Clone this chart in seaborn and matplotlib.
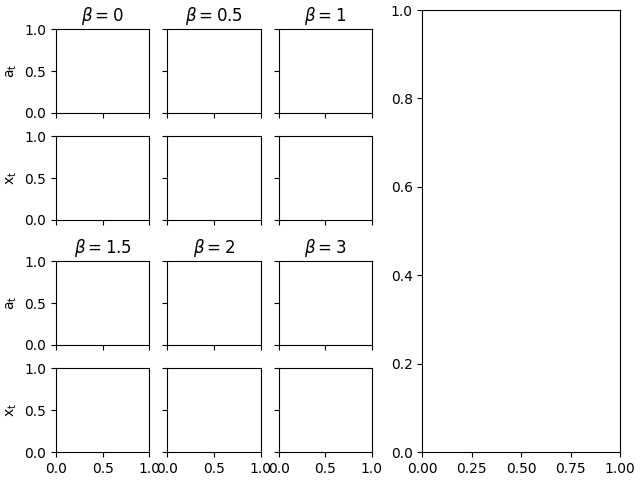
import matplotlib
matplotlib.use("Agg")
import matplotlib.pyplot as plt
import seaborn as sns

# keep plain matplotlib look (black text, thin spines)
sns.reset_defaults()
plt.rcParams["font.family"] = ["DejaVu Sans"]

# beta values shown in the panel titles, one block of 3 per group
betas = ["0", "0.5", "1", "1.5", "2", "3"]
row_labels = [r"$\mathrm{a_t}$", r"$\mathrm{x_t}$"]

fig = plt.figure(figsize=(6.4, 4.8), dpi=100)

# two stacked 2x3 blocks on the left
blocks = [
    fig.add_gridspec(2, 3, left=0.0875, right=0.581, top=0.939, bottom=0.542,
                     wspace=0.195, hspace=0.28),
    fig.add_gridspec(2, 3, left=0.0875, right=0.581, top=0.456, bottom=0.058,
                     wspace=0.195, hspace=0.28),
]

axes = []
for b, gs in enumerate(blocks):
    for r in range(2):
        for c in range(3):
            ax = fig.add_subplot(gs[r, c])
            ax.set_xlim(0, 1)
            ax.set_ylim(0, 1)
            ax.set_xticks([0, 0.5, 1.0])
            ax.set_yticks([0, 0.5, 1.0])
            if r == 0:
                ax.set_title(rf"$\beta = {betas[b * 3 + c]}$")
            if c == 0:
                ax.set_ylabel(row_labels[r])
            else:
                ax.set_yticklabels([])
            if not (b == 1 and r == 1):
                ax.set_xticklabels([])
            axes.append(ax)

# big panel on the right
big = fig.add_axes([0.66, 0.058, 0.309, 0.921])
big.set_xlim(0, 1)
big.set_ylim(0, 1)

fig.savefig("out.png", dpi=100)
